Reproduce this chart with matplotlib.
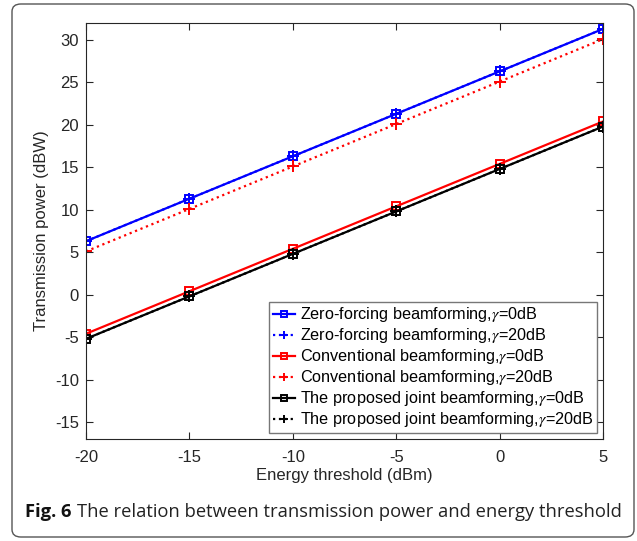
import numpy as np
import matplotlib.pyplot as plt
from matplotlib.patches import FancyBboxPatch

# energy threshold (dBm)
x = [-20, -15, -10, -5, 0, 5]

zf_0db = [6.3, 11.3, 16.3, 21.3, 26.3, 31.3]
zf_20db = [6.3, 11.3, 16.3, 21.3, 26.3, 31.3]
conv_0db = [-4.6, 0.4, 5.4, 10.4, 15.4, 20.4]
conv_20db = [5.1, 10.1, 15.1, 20.1, 25.1, 30.1]
joint_0db = [-5.2, -0.2, 4.8, 9.8, 14.8, 19.8]
joint_20db = [-5.2, -0.2, 4.8, 9.8, 14.8, 19.8]

labels = [
    r'Zero-forcing beamforming,$\gamma$=0dB',
    r'Zero-forcing beamforming,$\gamma$=20dB',
    r'Conventional beamforming,$\gamma$=0dB',
    r'Conventional beamforming,$\gamma$=20dB',
    r'The proposed joint beamforming,$\gamma$=0dB',
    r'The proposed joint beamforming,$\gamma$=20dB',
]

plt.rcParams['font.family'] = ['Liberation Sans', 'DejaVu Sans']
plt.rcParams['mathtext.fontset'] = 'stix'
plt.rcParams['axes.unicode_minus'] = False

W, H = 637, 541
fig = plt.figure(figsize=(W / 100, H / 100), dpi=100)

# rounded frame around figure + caption
frame = FancyBboxPatch((12 / W, 4 / H), 622 / W, 533 / H, boxstyle='round,pad=0,rounding_size=0.014',
                       transform=fig.transFigure, fill=False, edgecolor='#555555', linewidth=1.0)
fig.patches.append(frame)

ax = fig.add_axes([86 / W, 1 - 439 / H, 517 / W, 416 / H])

ax.plot(x, zf_0db, 'b-s', lw=1.6, ms=5.5, mfc='none', mew=1.4, label=labels[0])
ax.plot(x, zf_20db, 'b:+', lw=1.6, ms=8, mew=1.4, label=labels[1])
ax.plot(x, conv_0db, 'r-s', lw=1.6, ms=5.5, mfc='none', mew=1.4, label=labels[2])
ax.plot(x, conv_20db, 'r:+', lw=1.6, ms=8, mew=1.4, label=labels[3])
ax.plot(x, joint_0db, 'k-s', lw=1.6, ms=5.5, mfc='none', mew=1.4, label=labels[4])
ax.plot(x, joint_20db, 'k:+', lw=1.6, ms=8, mew=1.4, label=labels[5])

ax.set_xlim(-20, 5)
ax.set_ylim(-17, 32)
ax.set_xticks(x)
ax.set_yticks(np.arange(-15, 31, 5))
ax.tick_params(direction='in', top=True, right=True, labelsize=12, labelcolor='#262626',
               color='#262626', length=5)
ax.tick_params(axis='x', pad=8)
ax.tick_params(axis='y', pad=5)
for s in ax.spines.values():
    s.set_color('#262626')
ax.set_xlabel('Energy threshold (dBm)', fontsize=12, color='#262626', labelpad=2)
ax.set_ylabel('Transmission power (dBW)', fontsize=12, color='#262626', labelpad=4)

leg = ax.legend(loc='lower right', fontsize=11.7, handlelength=1.4, handletextpad=0.25,
                labelspacing=0.12, borderpad=0.2, borderaxespad=0.4, fancybox=False,
                edgecolor='#777777', framealpha=1, markerscale=0.7)
leg.get_frame().set_linewidth(1.0)

# caption: bold label + text, scaled to fit reference width
cap_fam = ['Open Sans', 'DejaVu Sans']
fs = 13.0
t1 = fig.text(25 / W, 1 - 512 / H, 'Fig. 6', fontsize=fs, fontweight='bold', family=cap_fam,
              color='#111111', va='center')
t2 = fig.text(0, 1 - 512 / H, 'The relation between transmission power and energy threshold', fontsize=fs,
              family=cap_fam, color='#222222', va='center')
fig.canvas.draw()
r = fig.canvas.get_renderer()
w1 = t1.get_window_extent(r).width
w2 = t2.get_window_extent(r).width
gap = 5
scale = (618 - 25) / (w1 + gap + w2)
t1.set_fontsize(fs * scale)
t2.set_fontsize(fs * scale)
t2.set_x((25 + (w1 + gap) * scale) / W)

fig.savefig('out.png', dpi=100)
